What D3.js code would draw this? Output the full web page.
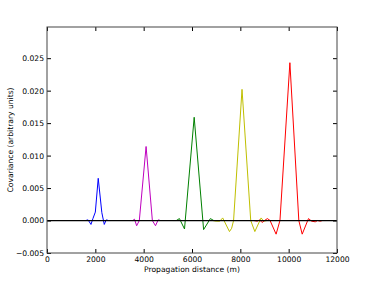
<!DOCTYPE html>
<html>
<head>
<meta charset="utf-8">
<script src="https://cdn.jsdelivr.net/npm/d3@7"></script>
<style>
  body { margin: 0; background: #fff; }
  text { font-family: "DejaVu Sans", sans-serif; font-size: 7.6px; fill: #000; }
</style>
</head>
<body>
<div id="app"></div>
<script>
// values (distance in m, covariance in arbitrary units)
var blueX = [1600, 1700, 1820, 1900, 2000, 2120, 2270, 2370, 2450, 2550, 2650]
var blueY = [0, 0.0001, -0.0006, 0.0003, 0.0013, 0.0065, 0.0012, -0.0006, 0.0001, 0, 0]

var magentaX = [3400, 3550, 3620, 3710, 3820, 4100, 4360, 4490, 4600, 4700]
var magentaY = [0, 0, 0.0002, -0.0008, 0.0000, 0.0114, 0.0000, -0.0008, 0.0001, 0]

var greenX = [5200, 5350, 5480, 5690, 6090, 6480, 6760, 6900]
var greenY = [0, 0, 0.0003, -0.0013, 0.0159, -0.0014, 0.0003, 0]

var yellowX = [6850, 7000, 7150, 7270, 7550, 7640, 7720, 8070, 8430, 8600, 8860, 8970, 9100]
var yellowY = [0, -0.0001, -0.0001, 0.0004, -0.0017, -0.0012, 0.0000, 0.0202, 0.0000, -0.0017, 0.0004, -0.0001, 0]

var redX = [8550, 8700, 8800, 8900, 9000, 9120, 9230, 9480, 9640, 10050, 10420, 10560, 10820, 10950, 11100, 11200, 11300, 11400, 11550]
var redY = [0, -0.0001, 0.0001, -0.0003, 0.0000, 0.0003, 0.0000, -0.0021, 0.0000, 0.0243, 0.0000, -0.0021, 0.0003, -0.0001, -0.0002, 0.0000, -0.0001, 0.0000, 0]

var seriesColours = ["#0000ff", "#bf00bf", "#008000", "#bfbf00", "#ff0000"]

var xTicks = [0, 2000, 4000, 6000, 8000, 10000, 12000]
var yTicks = [-0.005, 0.000, 0.005, 0.010, 0.015, 0.020, 0.025]

var width = 374, height = 282
var margin = {top: 27, right: 37, bottom: 29, left: 47}
var w = width - margin.left - margin.right
var h = height - margin.top - margin.bottom

var svg = d3.select("#app").append("svg")
  .attr("width", width).attr("height", height)

var g = svg.append("g").attr("transform", "translate(" + margin.left + "," + margin.top + ")")

var x = d3.scaleLinear().domain([0, 12000]).range([0, w])
var y = d3.scaleLinear().domain([-0.005, 0.0298]).range([h, 0])

var series = [
  d3.zip(blueX, blueY),
  d3.zip(magentaX, magentaY),
  d3.zip(greenX, greenY),
  d3.zip(yellowX, yellowY),
  d3.zip(redX, redY)
]

var line = d3.line().x(d => x(d[0])).y(d => y(d[1]))

g.selectAll(".series").data(series).enter().append("path")
  .attr("class", "series")
  .attr("d", line)
  .attr("fill", "none")
  .attr("stroke", (d, i) => seriesColours[i])
  .attr("stroke-width", 1)
  .attr("stroke-linejoin", "round")

// zero line
g.append("line")
  .attr("x1", x(0)).attr("x2", x(12000))
  .attr("y1", y(0)).attr("y2", y(0))
  .attr("stroke", "#000").attr("stroke-width", 1.2)

// axes, ticks pointing inward like classic matplotlib
function styleAxis(sel) {
  sel.select(".domain").remove()
  sel.selectAll(".tick line").attr("stroke", "#000")
  sel.selectAll(".tick text").attr("font-family", null).attr("font-size", null)
}

g.append("g").attr("transform", "translate(0," + h + ")")
  .call(d3.axisBottom(x).tickValues(xTicks).tickSize(-4).tickPadding(4).tickFormat(d3.format("d")))
  .call(styleAxis)

g.append("g")
  .call(d3.axisTop(x).tickValues(xTicks).tickSize(-4).tickFormat(""))
  .call(styleAxis)

g.append("g")
  .call(d3.axisLeft(y).tickValues(yTicks).tickSize(-4).tickPadding(3).tickFormat(d3.format(".3f")))
  .call(styleAxis)

g.append("g").attr("transform", "translate(" + w + ",0)")
  .call(d3.axisRight(y).tickValues(yTicks).tickSize(-4).tickFormat(""))
  .call(styleAxis)

// frame
g.append("rect")
  .attr("x", 0).attr("y", 0).attr("width", w).attr("height", h)
  .attr("fill", "none").attr("stroke", "#444").attr("stroke-width", 1)

svg.append("text")
  .attr("x", margin.left + w / 2).attr("y", 272)
  .attr("text-anchor", "middle")
  .text("Propagation distance (m)")

svg.append("text")
  .attr("transform", "translate(13," + (margin.top + h / 2) + ") rotate(-90)")
  .attr("text-anchor", "middle")
  .text("Covariance (arbitrary units)")
</script>
</body>
</html>
